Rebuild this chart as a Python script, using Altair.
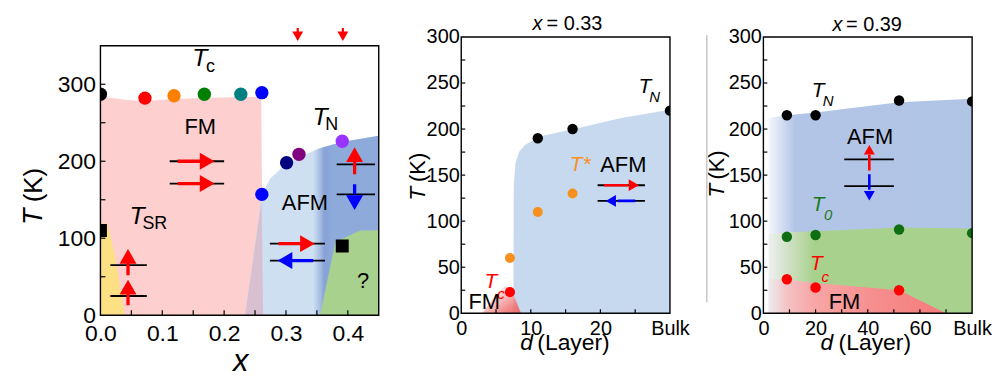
import altair as alt
import pandas as pd

FONT = "Liberation Sans"

# ======================= Panel (a): T - x phase diagram =======================
a_xdom = [0, 0.45]
a_ydom = [0, 361.4]      # frame drawn at 0..350 K; extra room above for the markers
a_frame_T = [0, 350]
a_W, a_H = 280, 280

# transition points
a_pt_x = [0.0, 0.072, 0.119, 0.168, 0.227, 0.261, 0.261, 0.301, 0.321, 0.391]
a_pt_T = [287, 282, 285, 287, 287, 289, 157, 198, 209, 226]
a_pt_c = ["#000000", "#ff0000", "#ff8000", "#008000", "#008080", "#0000ff",
          "#0000ff", "#000080", "#800080", "#9933ff"]
a_sq_x = [0.0, 0.391]
a_sq_T = [110, 90]

# phase regions (boundary curves)
a_fm_x = [0.0, 0.04, 0.07, 0.10, 0.16, 0.260, 0.263]
a_fm_T = [284, 280, 278, 280, 282, 284, 0]
a_afm_x = [0.234, 0.261, 0.275, 0.298, 0.32, 0.355, 0.39, 0.45]
a_afm_T = [0, 157, 178, 195, 205, 217, 225, 233]
a_mix_x = [0.234, 0.2605, 0.263]
a_mix_T = [0, 150, 0]
a_afm2_x = [0.344, 0.355, 0.39, 0.45]
a_afm2_T = [213.2, 217, 225, 233]
a_q_x = [0.355, 0.38, 0.42, 0.45]
a_q_T = [0, 95, 110, 110]
a_sr_x = [0.0, 0.01, 0.016, 0.025, 0.039]
a_sr_T = [119, 119, 105, 70, 0]

# spin-direction sketches
a_bar_x1 = [0.112, 0.112, 0.016, 0.016, 0.274, 0.274, 0.382, 0.382]
a_bar_x2 = [0.200, 0.200, 0.075, 0.075, 0.363, 0.363, 0.444, 0.444]
a_bar_T = [200, 171, 65, 25, 93, 71, 196, 157]
a_sh_x1 = [0.125, 0.125, 0.0446, 0.0446, 0.411, 0.288, 0.411, 0.310]
a_sh_T1 = [200, 171, 52, 13, 183, 93, 157, 71]
a_sh_x2 = [0.163, 0.163, 0.0446, 0.0446, 0.411, 0.325, 0.411, 0.344]
a_sh_T2 = [200, 171, 70, 30, 200, 93, 170, 71]
a_sh_c = ["#ff0000"] * 6 + ["#0000ff"] * 2
a_hd_x = [0.1725, 0.1725, 0.0446, 0.0446, 0.411, 0.3347, 0.411, 0.2984]
a_hd_T = [200, 171, 76.5, 36.5, 208.5, 93, 146.3, 71]
a_hd_s = ["triangle-right", "triangle-right", "triangle-up", "triangle-up",
          "triangle-up", "triangle-right", "triangle-down", "triangle-left"]
a_hd_c = ["#ff0000"] * 6 + ["#0000ff"] * 2
# red markers above the frame (x = 0.32, 0.39)
a_mk_x = [0.319, 0.392]
a_mk_T1 = [373, 373]
a_mk_T2 = [364, 364]
a_mk_Th = [362.3, 362.3]

a_xticks = [0.05, 0.1, 0.15, 0.2, 0.25, 0.3, 0.35, 0.4]
a_yticks = [50, 100, 150, 200, 250, 300]

# ======================= Panel (b): x = 0.33 =======================
b_xdom = [0, 30]
b_ydom = [0, 300]
b_W, b_H = 210, 278
b_TN_d = [11, 16, 30]
b_TN_T = [190, 200, 220]
b_Ts_d = [7, 11, 16]
b_Ts_T = [60, 110, 130]
b_Tc_d = [7]
b_Tc_T = [23]
b_afm_d = [7.5, 7.55, 7.8, 8.3, 9.2, 11.3, 16.2, 23, 30]
b_afm_T = [0, 140, 163, 175, 183, 192, 200, 212, 221]
b_fm_d = [3.0, 5.0, 6.3, 7.2, 8.6]
b_fm_T = [0, 20, 30, 26, 0]
b_bar_x1 = [19.6, 19.6]
b_bar_x2 = [26.4, 26.4]
b_bar_T = [139, 122]
b_sh_x1 = [20.5, 22.5]
b_sh_x2 = [24.0, 25.0]
b_sh_T = [139, 122]
b_sh_c = ["#ff0000", "#0000ff"]
b_hd_x = [24.8, 21.5]
b_hd_T = [139, 122]
b_hd_s = ["triangle-right", "triangle-left"]
b_hd_c = ["#ff0000", "#0000ff"]

# ======================= Panel (c): x = 0.39 =======================
c_xdom = [0, 80]
c_ydom = [0, 300]
c_W, c_H = 210, 278
c_TN_d = [9, 20, 52, 80]
c_TN_T = [215, 215, 231, 230]
c_T0_d = [9, 20, 52, 80]
c_T0_T = [83, 85, 91, 87]
c_Tc_d = [9, 20, 52]
c_Tc_T = [37, 28, 25]
c_afm_d = [2, 9, 20, 52, 80]
c_afm_T = [212, 215, 218, 229, 233]
c_grn_d = [2, 9, 20, 52, 80]
c_grn_T = [86, 88, 89, 93, 92]
c_fm_d = [2, 9, 20, 52, 70]
c_fm_T = [37, 36.5, 33, 25, 0]
c_bar_x1 = [31, 31]
c_bar_x2 = [50, 50]
c_bar_T = [167, 138]
c_sh_x = [40.6, 40.6]
c_sh_T1 = [155, 151]
c_sh_T2 = [172, 134]
c_sh_c = ["#ff0000", "#0000ff"]
c_hd_x = [40.6, 40.6]
c_hd_T = [177.5, 127.5]
c_hd_s = ["triangle-up", "triangle-down"]
c_hd_c = ["#ff0000", "#0000ff"]


# ======================= helpers =======================
CUR = {"xa": None, "ya": None}


def S(dom):
    return alt.Scale(domain=dom, nice=False, zero=False)


def X(field, dom):
    return alt.X(field, scale=S(dom), axis=CUR["xa"], title=None)


def Y(field, dom):
    return alt.Y(field, scale=S(dom), axis=CUR["ya"], title=None)


def grad(stops, x2=1, y2=0):
    return alt.LinearGradient(
        gradient="linear", x1=0, y1=0, x2=x2, y2=y2,
        stops=[alt.GradientStop(offset=o, color=c) for o, c in stops])


def area(xs, ys, dx, dy, color, opacity=1.0):
    df = pd.DataFrame({"x": xs, "y": ys, "b": [0] * len(xs)})
    return alt.Chart(df).mark_area(color=color, opacity=opacity, orient="vertical",
                                   interpolate="linear", clip=True).encode(
        x=X("x:Q", dx), y=Y("y:Q", dy), y2="b:Q")


def rules(x1, y1, x2, y2, colors, width, dx, dy, clip=True):
    df = pd.DataFrame({"x1": x1, "y1": y1, "x2": x2, "y2": y2, "c": colors})
    return alt.Chart(df).mark_rule(strokeWidth=width, clip=clip).encode(
        x=X("x1:Q", dx), y=Y("y1:Q", dy), x2="x2:Q", y2="y2:Q",
        color=alt.Color("c:N", scale=None))


def heads(xs, ys, shapes, colors, size, dx, dy, clip=True):
    df = pd.DataFrame({"x": xs, "y": ys, "s": shapes, "c": colors})
    return alt.Chart(df).mark_point(filled=True, size=size, opacity=1,
                                    strokeWidth=0, clip=clip).encode(
        x=X("x:Q", dx), y=Y("y:Q", dy),
        shape=alt.Shape("s:N", scale=None),
        color=alt.Color("c:N", scale=None))


def dots(xs, ys, colors, size, dx, dy, shape="circle"):
    df = pd.DataFrame({"x": xs, "y": ys, "c": colors})
    return alt.Chart(df).mark_point(filled=True, size=size, opacity=1, shape=shape,
                                    strokeWidth=0, clip=True).encode(
        x=X("x:Q", dx), y=Y("y:Q", dy),
        color=alt.Color("c:N", scale=None))


def texts(xs, ys, labels, colors, size, dx, dy, italic=False, align="center", angle=0):
    df = pd.DataFrame({"x": xs, "y": ys, "t": labels, "c": colors})
    return alt.Chart(df).mark_text(font=FONT, fontSize=size, align=align,
                                   baseline="middle", angle=angle,
                                   fontStyle="italic" if italic else "normal").encode(
        x=X("x:Q", dx), y=Y("y:Q", dy), text="t:N",
        color=alt.Color("c:N", scale=None))


def frame(fx, fy, dx, dy):
    df = pd.DataFrame({"x": [fx[0]], "x2": [fx[1]], "y": [fy[0]], "y2": [fy[1]]})
    return alt.Chart(df).mark_rect(fillOpacity=0, stroke="black", strokeWidth=1.4).encode(
        x=X("x:Q", dx), x2="x2:Q", y=Y("y:Q", dy), y2="y2:Q")


def inticks(xv, yv, dx, dy, H, L=5):
    dfx = pd.DataFrame({"v": xv})
    dfy = pd.DataFrame({"v": yv})
    tx = alt.Chart(dfx).mark_rule(color="black", strokeWidth=1.2).encode(
        x=X("v:Q", dx), y=alt.value(H), y2=alt.value(H - L))
    ty = alt.Chart(dfy).mark_rule(color="black", strokeWidth=1.2).encode(
        y=Y("v:Q", dy), x=alt.value(0), x2=alt.value(L))
    return [tx, ty]


def spacer(xs, ys, dx, dy):
    df = pd.DataFrame({"x": xs, "y": ys})
    return alt.Chart(df).mark_point(size=1, opacity=0).encode(
        x=X("x:Q", dx), y=Y("y:Q", dy))


def xaxis(values, size, pad, fmt=None, expr=None):
    kw = dict(values=values, labelFontSize=size, labelFont=FONT, labelColor="black",
              ticks=False, domain=False, grid=False, title=None, labelPadding=pad,
              labelFlush=False, labelOverlap=False)
    if fmt:
        kw["format"] = fmt
    if expr:
        kw["labelExpr"] = expr
    return alt.Axis(**kw)


def yaxis(values, size, pad, expr=None):
    kw = dict(values=values, labelFontSize=size, labelFont=FONT, labelColor="black",
              ticks=False, domain=False, grid=False, title=None, labelPadding=pad,
              labelOverlap=False)
    if expr:
        kw["labelExpr"] = expr
    return alt.Axis(**kw)


NOVIEW = alt.ViewBackground(stroke="transparent", strokeWidth=0)

# ======================= Panel (a) =======================
ax, ay = a_xdom, a_ydom
CUR["xa"] = xaxis([0, 0.1, 0.2, 0.3, 0.4], 23, 7, fmt=".1f")
CUR["ya"] = yaxis([0, 100, 200, 300], 23, 5)
pa = alt.layer(
    area(a_fm_x, a_fm_T, ax, ay, "#fdcfcf"),
    area(a_afm_x, a_afm_T, ax, ay, "#cddff0"),
    area(a_mix_x, a_mix_T, ax, ay, "#d9c0d0"),
    area(a_afm2_x, a_afm2_T, ax, ay,
         grad([(0, "#cddff0"), (0.1, "#a9bfe4"), (0.17, "#86a2d6"), (0.3, "#8eaadb"), (1, "#8eaadb")])),
    area(a_q_x, a_q_T, ax, ay, "#a9d18e"),
    area(a_sr_x, a_sr_T, ax, ay, "#fde083"),
    rules(a_bar_x1, a_bar_T, a_bar_x2, a_bar_T, ["black"] * 8, 1.8, ax, ay),
    rules(a_sh_x1, a_sh_T1, a_sh_x2, a_sh_T2, a_sh_c, 3.3, ax, ay),
    heads(a_hd_x, a_hd_T, a_hd_s, a_hd_c, 290, ax, ay),
    dots(a_pt_x, a_pt_T, a_pt_c, 180, ax, ay),
    dots(a_sq_x, a_sq_T, ["black", "black"], 170, ax, ay, shape="square"),
    frame(a_xdom, a_frame_T, ax, ay),
    *inticks(a_xticks, a_yticks, ax, ay, a_H),
    texts([0.1608, 0.355, 0.0591], [333.4, 258, 129], ["T", "T", "T"], ["black"] * 3, 25, ax, ay, italic=True),
    texts([0.178, 0.374, 0.088], [322.7, 246.5, 118.4], ["c", "N", "SR"], ["black"] * 3, 18, ax, ay),
    texts([0.1613, 0.3306, 0.4247], [244, 146.3, 45], ["FM", "AFM", "?"], ["black"] * 3, 22, ax, ay),
    rules(a_mk_x, a_mk_T1, a_mk_x, a_mk_T2, ["#ff0000"] * 2, 2.2, ax, ay, clip=False),
    heads(a_mk_x, a_mk_Th, ["triangle-down"] * 2, ["#ff0000"] * 2, 120, ax, ay, clip=False),
    texts([-0.108], [128], ["T"], ["black"], 27, ax, ay, italic=True, angle=270),
    texts([-0.108], [169], ["(K)"], ["black"], 26, ax, ay, angle=270),
    texts([0.227], [-60.7], ["x"], ["black"], 31, ax, ay, italic=True),
    spacer([-0.148, 0.458], [396.3, 396.3], ax, ay),
).properties(width=a_W, height=a_H, view=NOVIEW)

# ======================= Panel (b) =======================
bx, by = b_xdom, b_ydom
CUR["xa"] = xaxis([0, 10, 20, 30], 20, 5, expr="datum.value == 30 ? 'Bulk' : datum.label")
CUR["ya"] = yaxis([0, 50, 100, 150, 200, 250, 300], 20, 2)
pb = alt.layer(
    area(b_afm_d, b_afm_T, bx, by, "#c6d9ee"),
    area(b_fm_d, b_fm_T, bx, by,
         grad([(0, "rgba(255,255,255,0)"), (0.35, "#fbd3d3"), (0.8, "#ef6a6a"), (1, "#ee6060")], x2=1, y2=1),
         opacity=0.85),
    rules(b_bar_x1, b_bar_T, b_bar_x2, b_bar_T, ["black"] * 2, 1.8, bx, by),
    rules(b_sh_x1, b_sh_T, b_sh_x2, b_sh_T, b_sh_c, 2.6, bx, by),
    heads(b_hd_x, b_hd_T, b_hd_s, b_hd_c, 140, bx, by),
    dots(b_TN_d, b_TN_T, ["black"] * 3, 110, bx, by),
    dots(b_Ts_d, b_Ts_T, ["#f7901e"] * 3, 100, bx, by),
    dots(b_Tc_d, b_Tc_T, ["#ff0000"], 105, bx, by),
    frame(b_xdom, b_ydom, bx, by),
    *inticks([5, 10, 15, 20, 25], [25, 50, 75, 100, 125, 150, 175, 200, 225, 250, 275], bx, by, b_H, 4),
    texts([26.4, 17.1, 4.26], [246, 161, 33.5], ["T", "T*", "T"], ["black", "#f7901e", "#ff0000"], 21, bx, by, italic=True),
    texts([27.8, 5.7], [235, 21], ["N", "c"], ["black", "#ff0000"], 15, bx, by, italic=True),
    texts([23.3, 3.3], [161.3, 12.7], ["AFM", "FM"], ["black", "black"], 22, bx, by),
    texts([10.96], [314.4], ["x"], ["black"], 20, bx, by, italic=True),
    texts([12.27], [314.4], ["= 0.33"], ["black"], 20, bx, by, align="left"),
    texts([-6.23], [129.8], ["T"], ["black"], 23, bx, by, italic=True, angle=270),
    texts([-6.23], [158.4], ["(K)"], ["black"], 22, bx, by, angle=270),
    texts([9.39], [-32.5], ["d"], ["black"], 23, bx, by, italic=True),
    texts([16.14], [-32.5], ["(Layer)"], ["black"], 23, bx, by),
    spacer([-10.88, 33.57], [329.1, 329.1], bx, by),
).properties(width=b_W, height=b_H, view=NOVIEW)

# ======================= Panel (c) =======================
cx, cy = c_xdom, c_ydom
CUR["xa"] = xaxis([0, 20, 40, 60, 80], 20, 5, expr="datum.value == 80 ? 'Bulk' : datum.label")
CUR["ya"] = yaxis([0, 50, 100, 150, 200, 250, 300], 20, 2)
pc = alt.layer(
    area(c_afm_d, c_afm_T, cx, cy,
         grad([(0, "#f4f6fb"), (0.13, "#b2c5e7"), (1, "#b0c4e6")])),
    area(c_grn_d, c_grn_T, cx, cy,
         grad([(0, "#eef0f0"), (0.1, "#cfe0c4"), (0.22, "#a9d18e"), (1, "#a9d18e")])),
    area(c_fm_d, c_fm_T, cx, cy,
         grad([(0, "#ececf0"), (0.1, "#f3c4c6"), (0.25, "#f8a6a6"), (0.6, "#f68e8e"), (1, "#f47b7b")])),
    rules(c_bar_x1, c_bar_T, c_bar_x2, c_bar_T, ["black"] * 2, 1.8, cx, cy),
    rules(c_sh_x, c_sh_T1, c_sh_x, c_sh_T2, c_sh_c, 2.6, cx, cy),
    heads(c_hd_x, c_hd_T, c_hd_s, c_hd_c, 120, cx, cy),
    dots(c_TN_d, c_TN_T, ["black"] * 4, 110, cx, cy),
    dots(c_T0_d, c_T0_T, ["#0f6e12"] * 4, 110, cx, cy),
    dots(c_Tc_d, c_Tc_T, ["#ff0000"] * 3, 110, cx, cy),
    frame(c_xdom, c_ydom, cx, cy),
    *inticks([10, 20, 30, 40, 50, 60, 70], [25, 50, 75, 100, 125, 150, 175, 200, 225, 250, 275], cx, cy, c_H, 4),
    texts([20.95, 21, 20.3], [241, 118, 53.6], ["T", "T", "T"], ["black", "#1b7a1f", "#ff0000"], 21, cx, cy, italic=True),
    texts([24.8, 24.8, 23.7], [230, 107, 39.3], ["N", "0", "c"], ["black", "#1b7a1f", "#ff0000"], 15, cx, cy, italic=True),
    texts([40.9, 31.1], [191, 12.5], ["AFM", "FM"], ["black", "black"], 22, cx, cy),
    texts([28.4], [312.6], ["x"], ["black"], 20, cx, cy, italic=True),
    texts([31.7], [312.6], ["= 0.39"], ["black"], 20, cx, cy, align="left"),
    texts([-17.9], [133], ["T"], ["black"], 23, cx, cy, italic=True, angle=270),
    texts([-17.9], [161], ["(K)"], ["black"], 22, cx, cy, angle=270),
    texts([24.3], [-32], ["d"], ["black"], 23, cx, cy, italic=True),
    texts([42.7], [-32], ["(Layer)"], ["black"], 23, cx, cy),
    rules([-21.7], [12], [-21.7], [302], ["#c8c8c8"], 1.5, cx, cy, clip=False),
    spacer([-25.5], [329.1], cx, cy),
).properties(width=c_W, height=c_H, view=NOVIEW)

chart = alt.hconcat(pa, pb, pc, spacing=0).properties(padding=0).configure_view(
    stroke="transparent", strokeWidth=0).configure(background="white")

chart.save("out.html", embed_options={"renderer": "svg", "actions": False})
